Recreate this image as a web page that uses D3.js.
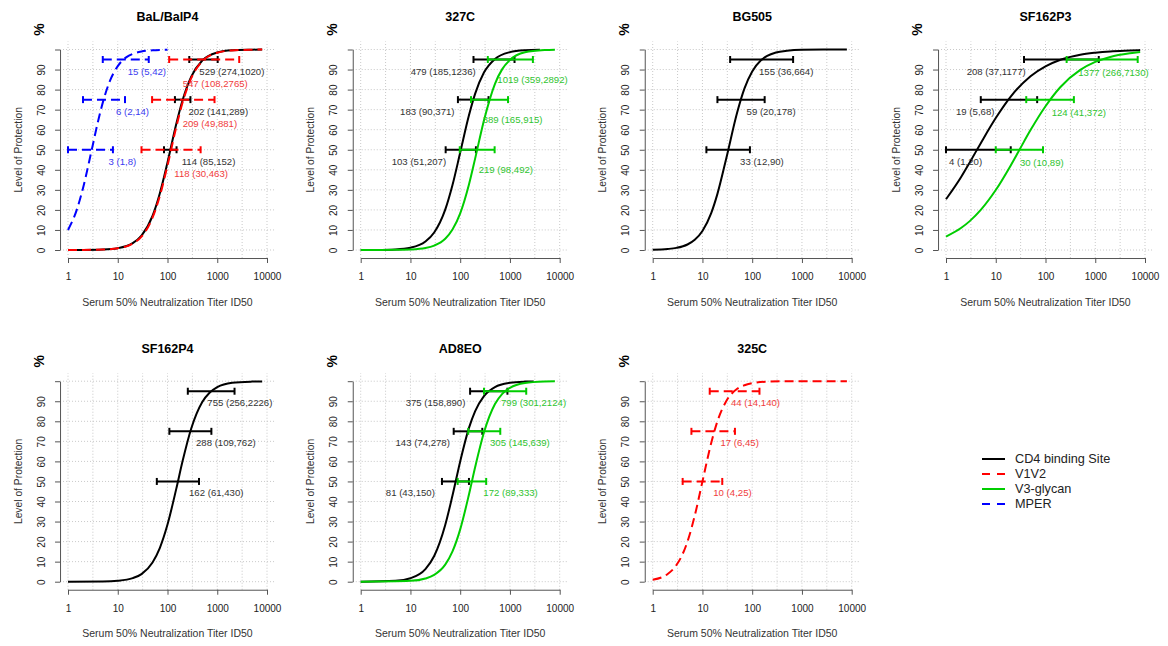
<!DOCTYPE html>
<html>
<head>
<meta charset="utf-8">
<script src="https://cdn.jsdelivr.net/npm/d3@7"></script>
<style>
  body { margin: 0; background: #fff; }
  svg { font-family: "Liberation Sans", Arial, sans-serif; }
</style>
</head>
<body>
<svg id="chart" width="1168" height="646"></svg>
<script>
// epitope classes (legend order)
const epitopes = ['CD4 binding Site', 'V1V2', 'V3-glycan', 'MPER'];
const epColors = ['#000000', '#ff0000', '#00cd00', '#0000ff'];
const epText = ['#333333', '#f03c3c', '#2fc42f', '#3c3cf0'];
const epDashed = [false, true, false, true];

const levels = [50, 75, 95];
const xTicks = [1, 10, 100, 1000, 10000];
const gridExp = [0, 0.5, 1, 1.5, 2, 2.5, 3, 3.5, 4];
const yTicks = [0, 10, 20, 30, 40, 50, 60, 70, 80, 90, 100];

// fitted curves: [titer, % protection]
const balCd4 = [[1,0],[2,0.04],[5,0.25],[10,0.9],[20,3.4],[30,7.2],[50,17],[70,28.2],[100,43.7],[150,62.9],[200,74.6],[300,86.5],[500,94.5],[1000,98.5],[2000,99.6],[5000,99.9],[8000,100]];
const balV1v2 = [[1,0],[2,0.04],[5,0.23],[10,0.87],[20,3.2],[30,6.7],[50,16.1],[70,26.9],[100,42.1],[150,61.3],[200,73.4],[300,85.7],[500,94.1],[1000,98.4],[2000,99.56],[5000,99.9],[8000,100]];
const balMper = [[1,10],[1.5,20],[2,30.8],[3,50],[4,64],[5,73.5],[7,84.5],[10,91.7],[15,96.2],[20,97.8],[30,99],[50,99.6],[100,99.9]];
const c327Cd4 = [[1,0],[2,0.05],[5,0.31],[10,1.15],[20,4.2],[30,8.7],[50,20.1],[70,32.4],[100,48.6],[150,67.2],[200,78],[300,88.5],[500,95.3],[1000,98.7],[2000,99.65],[4000,99.9]];
const c327V3 = [[1,0],[5,0.07],[10,0.27],[20,1],[30,2.2],[50,5.6],[70,10.2],[100,18.3],[150,32.7],[200,45.7],[300,64.6],[500,82.9],[700,90.2],[1000,94.8],[2000,98.6],[5000,99.75],[8000,99.9]];
const bg505Cd4 = [[1,0.13],[2,0.5],[3,1.06],[5,2.75],[7,5.1],[10,9.5],[15,18.4],[20,28],[30,45.5],[50,68.7],[70,80.6],[100,89],[150,94.6],[200,96.8],[300,98.5],[500,99.4],[1000,99.85],[8000,100]];
const sf3Cd4 = [[1,25.3],[2,36.3],[3,43.7],[5,53.3],[10,65.8],[20,76.5],[50,86.7],[100,91.6],[200,94.9],[500,97.4],[1000,98.4],[2000,99.06],[5000,99.5],[8000,99.7]];
const sf3V3 = [[1,6.7],[2,10.95],[3,14.4],[5,20],[10,29.9],[20,42.2],[30,50],[50,59.8],[100,71.7],[200,81.3],[500,89.8],[1000,93.8],[2000,96.3],[5000,98.1],[8000,98.7]];
const sf4Cd4 = [[1,0],[5,0.13],[10,0.49],[20,1.8],[30,3.8],[50,9.6],[70,16.8],[100,28.5],[150,46.3],[200,59.9],[300,76.4],[500,89.6],[700,94.2],[1000,97],[2000,99.2],[5000,99.8],[8000,99.9]];
const ad8Cd4 = [[1,0],[5,0.46],[10,1.74],[20,6.3],[30,12.8],[50,28.3],[70,43],[100,60],[150,76.7],[200,85.1],[300,92.6],[500,97.1],[1000,99.2],[2000,99.8],[3000,99.9]];
const ad8V3 = [[1,0],[10,0.42],[20,1.58],[30,3.4],[50,8.5],[70,15.1],[100,26.1],[150,43.5],[200,57.2],[300,74.4],[500,88.6],[700,93.7],[1000,96.7],[2000,99.1],[5000,99.85],[8000,99.95]];
const c325V1v2 = [[1,1],[2,3.85],[3,8.3],[4,13.8],[5,20],[7,32.9],[10,50],[15,69.2],[20,80],[30,90],[50,96.2],[70,98],[100,99],[200,99.75],[500,99.96],[8000,100]];

// ID50 estimates [value, lower, upper] at 50, 75, 95 %
const balCd4Est = [[114,85,152],[202,141,289],[529,274,1020]];
const balV1v2Est = [[118,30,463],[209,49,881],[547,108,2765]];
const balMperEst = [[3,1,8],[6,2,14],[15,5,42]];
const c327Cd4Est = [[103,51,207],[183,90,371],[479,185,1236]];
const c327V3Est = [[219,98,492],[389,165,915],[1019,359,2892]];
const bg505Cd4Est = [[33,12,90],[59,20,178],[155,36,664]];
const sf3Cd4Est = [[4,1,20],[19,5,68],[208,37,1177]];
const sf3V3Est = [[30,10,89],[124,41,372],[1377,266,7130]];
const sf4Cd4Est = [[162,61,430],[288,109,762],[755,256,2226]];
const ad8Cd4Est = [[81,43,150],[143,74,278],[375,158,890]];
const ad8V3Est = [[172,89,333],[305,145,639],[799,301,2124]];
const c325V1v2Est = [[10,4,25],[17,6,45],[44,14,140]];

const titles = ['BaL/BalP4', '327C', 'BG505', 'SF162P3', 'SF162P4', 'AD8EO', '325C'];

// where each annotation starts (titer) and how far below its bar it sits (%)
const panels = [
  { t: 0, series: [
    { ep: 0, curve: balCd4, est: balCd4Est, at: [193,263,436], dy: -6 },
    { ep: 1, curve: balV1v2, est: balV1v2Est, at: [137,202,202], dy: -12 },
    { ep: 3, curve: balMper, est: balMperEst, at: [6.5,9.2,15.8], dy: -6 }]},
  { t: 1, series: [
    { ep: 0, curve: c327Cd4, est: c327Cd4Est, at: [4.2,6.2,10.1], dy: -6 },
    { ep: 2, curve: c327V3, est: c327V3Est, at: [235,283,557], dy: -10 }]},
  { t: 2, series: [
    { ep: 0, curve: bg505Cd4, est: bg505Cd4Est, at: [57,77,137], dy: -6 }]},
  { t: 3, series: [
    { ep: 0, curve: sf3Cd4, est: sf3Cd4Est, at: [1.15,1.59,2.6], dy: -6 },
    { ep: 2, curve: sf3V3, est: sf3V3Est, at: [30.7,133,456], dy: -6.5 }]},
  { t: 4, series: [
    { ep: 0, curve: sf4Cd4, est: sf4Cd4Est, at: [271,374,631], dy: -5.5 }]},
  { t: 5, series: [
    { ep: 0, curve: ad8Cd4, est: ad8Cd4Est, at: [3.2,5.0,8.0], dy: -5.5 },
    { ep: 2, curve: ad8V3, est: ad8V3Est, at: [292,398,661], dy: -5.5 }]},
  { t: 6, series: [
    { ep: 1, curve: c325V1v2, est: c325V1v2Est, at: [16.5,23,37.5], dy: -5.5 }]}
];

const colLeft = [68, 360.7, 652.7, 946];
const rowBase = [250, 581.7];
const plotW = 199, plotH = 200.5;
const dash = '9,5';

const svg = d3.select('#chart');

panels.forEach((p, i) => {
  const x0 = colLeft[i % 4], y0 = rowBase[Math.floor(i / 4)];
  const x = d3.scaleLog().domain([1, 10000]).range([x0, x0 + plotW]);
  const y = d3.scaleLinear().domain([0, 100]).range([y0, y0 - plotH]);
  const left = x(10 ** -0.16), right = x(10 ** 4.16);
  const bottom = y(-4), top = y(104);
  const g = svg.append('g');

  // dotted grid
  g.selectAll('.vg').data(gridExp).join('line')
    .attr('x1', d => x(10 ** d)).attr('x2', d => x(10 ** d))
    .attr('y1', bottom).attr('y2', top)
    .attr('stroke', '#c8c8c8').attr('stroke-dasharray', '1,2');
  g.selectAll('.hg').data(yTicks).join('line')
    .attr('x1', left).attr('x2', right)
    .attr('y1', d => y(d)).attr('y2', d => y(d))
    .attr('stroke', '#c8c8c8').attr('stroke-dasharray', '1,2');

  // axes
  const ax = g.append('g')
    .attr('transform', `translate(0,${bottom})`)
    .call(d3.axisBottom(x).tickValues(xTicks).tickFormat(d3.format('d'))
      .tickSize(5).tickSizeOuter(0).tickPadding(10));
  ax.selectAll('text').attr('font-size', 10).attr('fill', '#222');

  const ay = g.append('g')
    .attr('transform', `translate(${left},0)`)
    .call(d3.axisLeft(y).tickValues(yTicks).tickFormat(d => d === 100 ? '' : d)
      .tickSize(5).tickSizeOuter(0));
  ay.selectAll('text')
    .attr('x', 0).attr('dy', '0.35em')
    .attr('transform', 'translate(-19,0) rotate(-90)')
    .attr('text-anchor', 'middle')
    .attr('font-size', 10).attr('fill', '#222');
  [ax, ay].forEach(a => {
    a.select('.domain').attr('stroke', '#555');
    a.selectAll('.tick line').attr('stroke', '#555');
  });

  // titles and axis labels
  g.append('text')
    .attr('x', x0 + plotW / 2).attr('y', y(100) - 33)
    .attr('dy', '0.35em').attr('text-anchor', 'middle')
    .attr('font-weight', 'bold').attr('font-size', 12.5)
    .text(titles[p.t]);
  g.append('text')
    .attr('transform', `translate(${left - 21},${y(100) - 20}) rotate(-90)`)
    .attr('dy', '0.35em').attr('text-anchor', 'middle')
    .attr('font-weight', 'bold').attr('font-size', 14)
    .text('%');
  g.append('text')
    .attr('transform', `translate(${x0 - 50},${y(50)}) rotate(-90)`)
    .attr('dy', '0.35em').attr('text-anchor', 'middle')
    .attr('font-size', 10.3).attr('fill', '#333')
    .text('Level of Protection');
  g.append('text')
    .attr('x', x0 + plotW / 2).attr('y', y0 + 52)
    .attr('dy', '0.35em').attr('text-anchor', 'middle')
    .attr('font-size', 10.5).attr('fill', '#333')
    .text('Serum 50% Neutralization Titer ID50');

  const line = d3.line()
    .x(d => x(d[0])).y(d => y(d[1]))
    .curve(d3.curveMonotoneX);

  p.series.forEach(s => {
    const col = epColors[s.ep];
    g.append('path')
      .attr('d', line(s.curve))
      .attr('fill', 'none')
      .attr('stroke', col).attr('stroke-width', 2)
      .attr('stroke-dasharray', epDashed[s.ep] ? dash : null);

    s.est.forEach((e, k) => {
      const yy = y(levels[k]);
      g.append('line')
        .attr('x1', x(e[1])).attr('x2', x(e[2]))
        .attr('y1', yy).attr('y2', yy)
        .attr('stroke', col).attr('stroke-width', 2)
        .attr('stroke-dasharray', epDashed[s.ep] ? dash : null);
      [e[1], e[2]].forEach(v => {
        g.append('line')
          .attr('x1', x(v)).attr('x2', x(v))
          .attr('y1', yy - 3.5).attr('y2', yy + 3.5)
          .attr('stroke', col).attr('stroke-width', 2);
      });
      g.append('text')
        .attr('x', x(s.at[k])).attr('y', y(levels[k] + s.dy))
        .attr('dy', '0.35em')
        .attr('font-size', 9.6).attr('fill', epText[s.ep])
        .text(`${e[0]} (${e[1]},${e[2]})`);
    });
  });
});

// legend
const legend = svg.append('g').attr('transform', 'translate(982,459)');
epitopes.forEach((name, i) => {
  legend.append('line')
    .attr('x1', 0).attr('x2', 23)
    .attr('y1', i * 15).attr('y2', i * 15)
    .attr('stroke', epColors[i]).attr('stroke-width', 2)
    .attr('stroke-dasharray', epDashed[i] ? '8,7' : null);
  legend.append('text')
    .attr('x', 33).attr('y', i * 15)
    .attr('dy', '0.35em')
    .attr('font-size', 12.7).attr('fill', '#222')
    .text(name);
});
</script>
</body>
</html>
